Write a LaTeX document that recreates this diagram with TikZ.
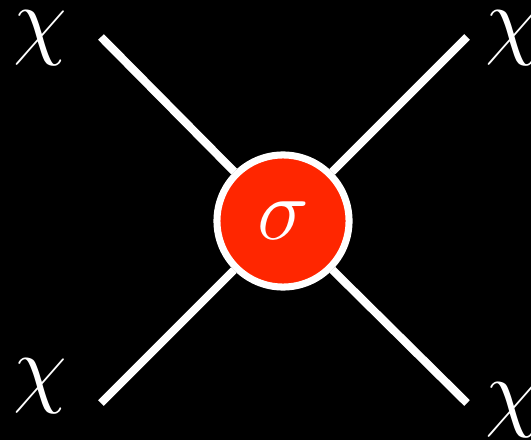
\documentclass[tikz,border=0pt]{standalone}
\usepackage{amsmath}
\usetikzlibrary{positioning}
\definecolor{vxRed}{HTML}{FF2600}
\definecolor{vxInk}{HTML}{FFFFFF}
\tikzset{
  leg/.style       ={draw=vxInk,line width=2.3pt,line cap=butt},
  vertex/.style    ={circle,draw=vxInk,fill=vxRed,line width=2pt,
                     minimum size=1.32cm,inner sep=0pt,font=\Huge,text=vxInk},
  plbl/.style      ={font=\Huge,text=vxInk,inner sep=0pt},
}
\begin{document}
\begin{tikzpicture}[x=0.01cm,y=-0.01cm]
\fill[black] (0,0) rectangle (531,440);
\useasboundingbox (0,0) rectangle (531,440);

\node[vertex] (sigma) at (283,221) {$\sigma$};

\coordinate (lTop) at (101,37);
\coordinate (rTop) at (467,37);
\coordinate (lBot) at (101,403);
\coordinate (rBot) at (467,403);

\node[plbl] (chiA) at (40,38)  {$\chi$};
\node[plbl] (chiB) at (512,38) {$\chi$};
\node[plbl] (chiC) at (40,386) {$\chi$};
\node[plbl] (chiD) at (512,410) {$\chi$};

\draw[leg] (lTop) -- (sigma);
\draw[leg] (rTop) -- (sigma);
\draw[leg] (lBot) -- (sigma);
\draw[leg] (rBot) -- (sigma);
\end{tikzpicture}
\end{document}
